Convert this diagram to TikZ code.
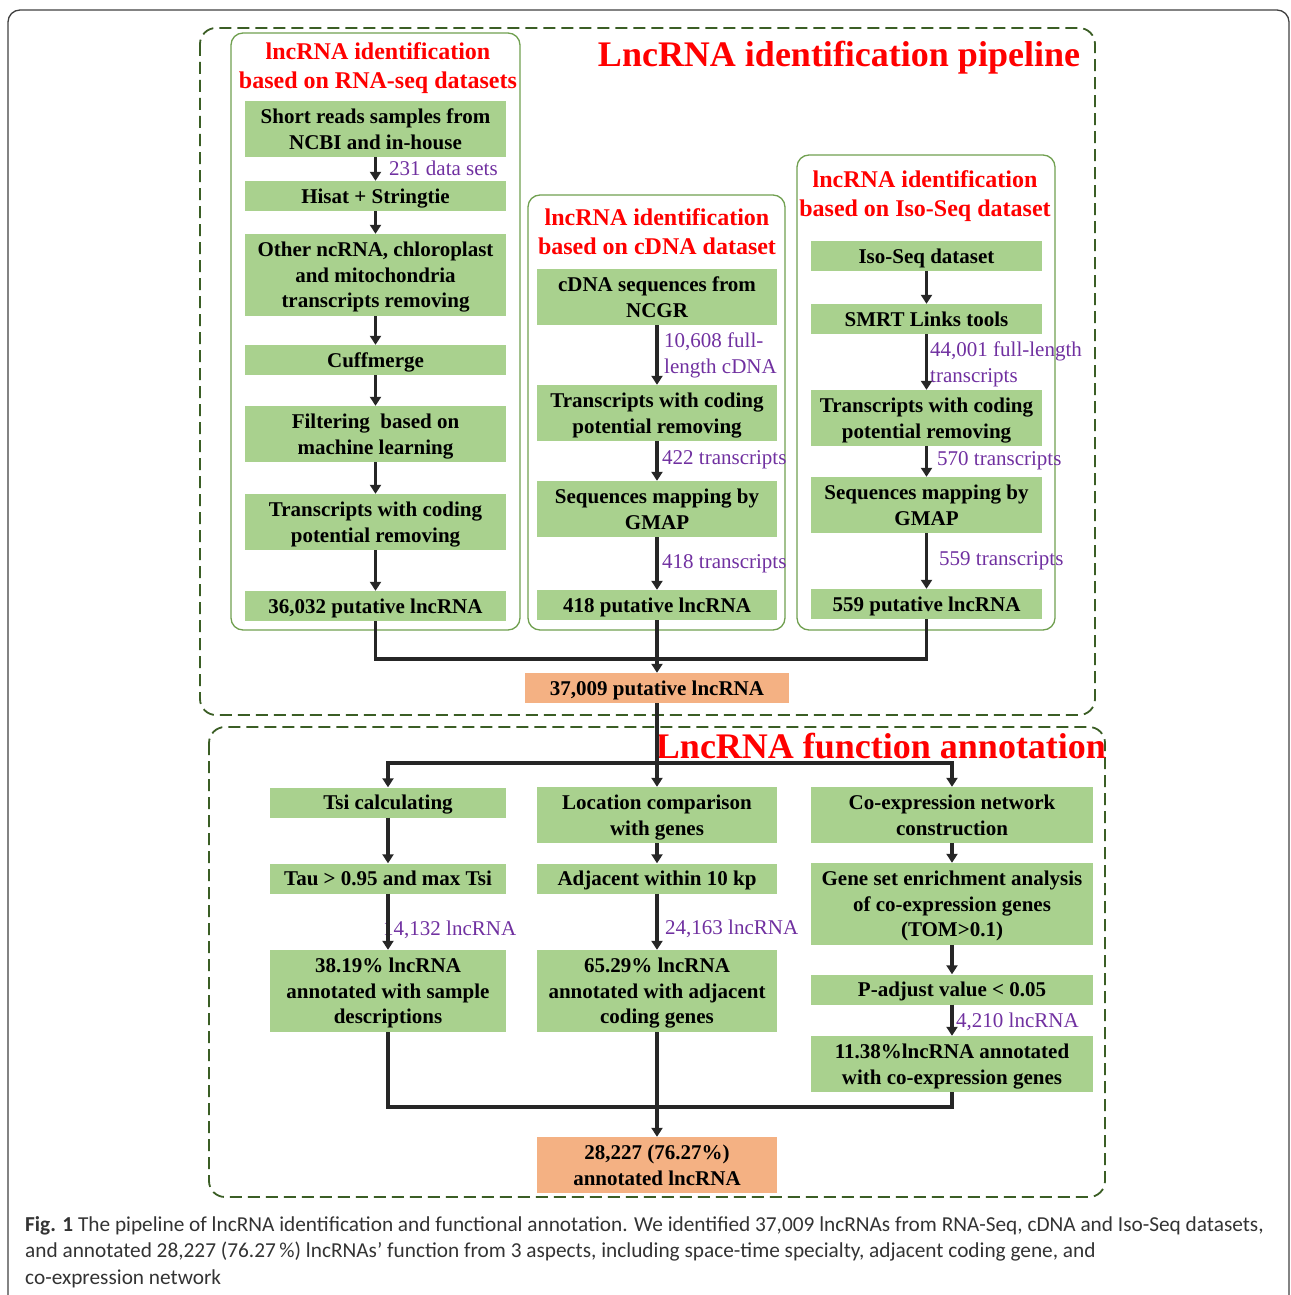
\documentclass[tikz,border=0pt]{standalone}
\usepackage{fontspec}
\setmainfont{Liberation Serif}
\newfontfamily\capfont{Carlito}
\usetikzlibrary{arrows.meta}
\definecolor{boxgreen}{HTML}{A9D18E}
\definecolor{panelgreen}{HTML}{70A050}
\definecolor{dashgreen}{HTML}{3B5E25}
\definecolor{numpurple}{HTML}{7030A0}
\definecolor{sumorange}{HTML}{F4B183}
\definecolor{linegray}{HTML}{262626}

\begin{document}
\begin{tikzpicture}
  [x=1pt,y=-1pt,
   proc/.style={fill=boxgreen,inner sep=0pt,align=center,text depth=0pt,
     font=\fontsize{21}{25.5}\selectfont\bfseries},
   total/.style={proc,fill=sumorange},
   one/.style={minimum height=30},
   two/.style={minimum height=56},
   three/.style={minimum height=82},
   colA/.style={minimum width=261},
   colB/.style={minimum width=240},
   colC/.style={minimum width=231},
   count/.style={anchor=west,inner sep=0pt,align=left,text=numpurple,
     font=\fontsize{21}{26}\selectfont},
   head/.style={text=red,inner sep=0pt,align=center,
     font=\fontsize{24}{29}\selectfont\bfseries},
   panel/.style={draw=panelgreen,line width=1.3pt,rounded corners=12pt},
   group/.style={draw=dashgreen,line width=1.8pt,dash pattern=on 12pt off 6pt,rounded corners=16pt},
   arr/.style={draw=linegray,line width=3.5pt,-{Triangle[width=11pt,length=9pt]}},
   link/.style={draw=linegray,line width=3.5pt}]
  \tikzstyle{big} = [text=red,inner sep=0pt,font=\fontsize{36}{40}\selectfont\bfseries]
  \useasboundingbox (0,0) rectangle (1290,1295);
  \draw[black!75,line width=1.3pt,rounded corners=12pt] (8,10) rectangle (1289,1320);

  % identification pipeline
  \draw[group] (200,28) rectangle (1095,715);
  \node[big] (pipe) at (839,58) {LncRNA identification pipeline};
  \draw[panel] (231,33) rectangle (520,630);
  \draw[panel] (528,195) rectangle (785,630);
  \draw[panel] (797,155) rectangle (1055,630);
  \node[head] (rnat) at (378,68) {lncRNA identification\\based on RNA-seq datasets};
  \node[head] (cdnat) at (657,232) {lncRNA identification\\based on cDNA dataset};
  \node[head] (isot) at (925,196.5) {lncRNA identification\\based on Iso-Seq dataset};

  \node[proc,colA,two]   (r1) at (375.5,129) {Short reads samples from\\NCBI and in-house};
  \node[proc,colA,one]   (r2) at (375.5,196) {Hisat + Stringtie};
  \node[proc,colA,three] (r3) at (375.5,275) {Other ncRNA, chloroplast\\and mitochondria\\transcripts removing};
  \node[proc,colA,one]   (r4) at (375.5,360) {Cuffmerge};
  \node[proc,colA,two]   (r5) at (375.5,434) {Filtering\ \ based on\\machine learning};
  \node[proc,colA,two]   (r6) at (375.5,522) {Transcripts with coding\\potential removing};
  \node[proc,colA,one]   (r7) at (375.5,606) {36,032 putative lncRNA};

  \node[proc,colB,two] (c1) at (657,297) {cDNA sequences from\\NCGR};
  \node[proc,colB,two] (c2) at (657,413) {Transcripts with coding\\potential removing};
  \node[proc,colB,two] (c3) at (657,509) {Sequences mapping by\\GMAP};
  \node[proc,colB,one] (c4) at (657,605) {418 putative lncRNA};

  \node[proc,colC,one] (s1) at (926.5,256) {Iso-Seq dataset};
  \node[proc,colC,one] (s2) at (926.5,319) {SMRT Links tools};
  \node[proc,colC,two] (s3) at (926.5,418) {Transcripts with coding\\potential removing};
  \node[proc,colC,two] (s4) at (926.5,505) {Sequences mapping by\\GMAP};
  \node[proc,colC,one] (s5) at (926.5,604) {559 putative lncRNA};

  \node[count] (n1) at (389,168) {231 data sets};
  \node[count] (n2) at (664,355) {10,608 full-\\length cDNA};
  \node[count] (n3) at (662,460) {422 transcripts};
  \node[count] (n4) at (662,564) {418 transcripts};
  \node[count] (n5) at (930,364) {44,001 full-length\\transcripts};
  \node[count] (n6) at (937,461) {570 transcripts};
  \node[count] (n7) at (939,561) {559 transcripts};

  \node[total,minimum width=264,one] (all) at (657,688) {37,009 putative lncRNA};

  % function annotation
  \draw[group] (209,727) rectangle (1105,1197);
  \node[big] (func) at (881,746) {LncRNA function annotation};

  \node[proc,minimum width=236,one]   (t1) at (388,802.5) {Tsi calculating};
  \node[proc,minimum width=236,one]   (t2) at (388,878.5) {Tau > 0.95 and max Tsi};
  \node[proc,minimum width=236,three] (t3) at (388,991) {38.19\% lncRNA\\annotated with sample\\descriptions};

  \node[proc,colB,two]   (a1) at (657,815) {Location comparison\\with genes};
  \node[proc,colB,one]   (a2) at (657,878.5) {Adjacent within 10 kp};
  \node[proc,colB,three] (a3) at (657,991) {65.29\% lncRNA\\annotated with adjacent\\coding genes};

  \node[proc,minimum width=282,two]   (e1) at (952,815) {Co-expression network\\construction};
  \node[proc,minimum width=282,three] (e2) at (952,904) {Gene set enrichment analysis\\of co-expression genes\\(TOM>0.1)};
  \node[proc,minimum width=282,one]   (e3) at (952,989.5) {P-adjust value < 0.05};
  \node[proc,minimum width=282,two]   (e4) at (952,1064) {11.38\%lncRNA annotated\\with co-expression genes};

  \node[count] (m1) at (383,930) {14,132 lncRNA};
  \node[count] (m2) at (665,929) {24,163 lncRNA};
  \node[count] (m3) at (956,1022) {4,210 lncRNA};

  \node[total,colB,two] (ann) at (657,1165) {28,227 (76.27\%)\\annotated lncRNA};

\foreach \source/\dest in {r1/r2,r2/r3,r3/r4,r4/r5,r5/r6,r6/r7,c1/c2,c2/c3,c3/c4,
    s1/s2,s2/s3,s3/s4,s4/s5,c4/all,all/a1,t1/t2,t2/t3,a1/a2,a2/a3,e1/e2,e2/e3,e3/e4,a3/ann}
   \draw[arr] (\source) -- (\dest);

  \coordinate (jtop) at (375.5,659);
  \draw[link] (r7) -- (jtop) -| (s5);
  \coordinate (split) at (657,763);
  \draw[arr] (split) -| (t1);
  \draw[arr] (split) -| (e1);
  \coordinate (jbot) at (388,1107);
  \draw[link] (t3) -- (jbot) -| (e4);

  \node[anchor=base west,inner sep=0pt,align=left,text=black!80,
    font=\capfont\fontsize{21.3}{26.5}\selectfont] (cap) at (25,1284)
    {\textbf{Fig. 1} The pipeline of lncRNA identification and functional annotation. We identified 37,009 lncRNAs from RNA-Seq, cDNA and Iso-Seq datasets,\\
     and annotated 28,227 (76.27\,\%) lncRNAs’ function from 3 aspects, including space-time specialty, adjacent coding gene, and\\
     co-expression network};
\end{tikzpicture}
\end{document}
